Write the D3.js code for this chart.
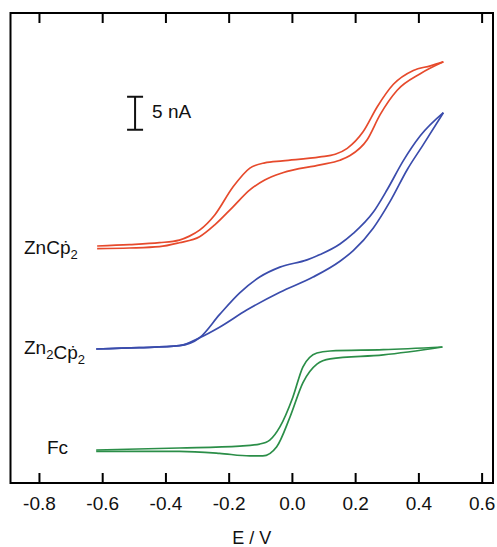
<!DOCTYPE html>
<html>
<head>
<meta charset="utf-8">
<script src="https://cdn.jsdelivr.net/npm/d3@7"></script>
<style>
  body { margin: 0; background: #fff; }
  svg { display: block; font-family: "Liberation Sans", Arial, sans-serif; }
</style>
</head>
<body>
<svg width="497" height="547"></svg>
<script>
// Tick values of the potential axis.
const xTicks = [-0.8, -0.6, -0.4, -0.2, 0.0, 0.2, 0.4, 0.6];

// ZnCp*2 (red), two branches of the sweep, E in V and I in nA (stacked).
const redUpperE = [-0.616, -0.514, -0.419, -0.356, -0.324, -0.292, -0.244, -0.187, -0.133, -0.086, -0.029, 0.089, 0.137, 0.175, 0.225, 0.270, 0.321, 0.384, 0.438, 0.479];
const redUpperI = [35.9, 36.1, 36.4, 36.8, 37.4, 38.3, 40.6, 44.8, 47.7, 48.5, 48.8, 49.4, 49.8, 50.7, 53.2, 57.0, 60.4, 62.5, 63.2, 63.8];
const redLowerE = [-0.616, -0.514, -0.419, -0.356, -0.292, -0.244, -0.187, -0.133, -0.086, -0.029, 0.089, 0.152, 0.184, 0.238, 0.279, 0.333, 0.406, 0.479];
const redLowerI = [35.5, 35.6, 35.8, 36.4, 37.3, 39.1, 41.8, 44.4, 45.9, 47.0, 48.2, 48.9, 49.6, 52.0, 55.8, 59.5, 62.0, 63.8];

// Zn2Cp*2 (blue).
const blueUpperE = [-0.619, -0.483, -0.356, -0.292, -0.229, -0.165, -0.102, -0.038, 0.048, 0.089, 0.152, 0.194, 0.257, 0.302, 0.352, 0.406, 0.479];
const blueUpperI = [20.3, 20.5, 20.8, 22.0, 25.5, 28.8, 31.2, 32.7, 33.8, 34.6, 36.2, 37.8, 41.0, 44.5, 48.8, 52.6, 56.1];
const blueLowerE = [-0.619, -0.483, -0.356, -0.292, -0.229, -0.143, -0.038, 0.067, 0.152, 0.194, 0.257, 0.311, 0.365, 0.416, 0.479];
const blueLowerI = [20.3, 20.5, 20.8, 22.0, 23.6, 26.2, 28.9, 31.2, 33.6, 35.2, 38.6, 42.7, 47.5, 51.3, 56.1];

// Fc (green).
const greenUpperE = [-0.619, -0.356, -0.165, -0.102, -0.070, -0.038, 0.003, 0.035, 0.079, 0.121, 0.289, 0.476];
const greenUpperI = [5.0, 5.3, 5.6, 5.9, 6.5, 8.5, 13.0, 17.6, 19.7, 20.0, 20.2, 20.6];
const greenLowerE = [-0.619, -0.356, -0.229, -0.133, -0.092, -0.048, -0.006, 0.035, 0.079, 0.121, 0.289, 0.476];
const greenLowerI = [4.8, 4.8, 4.5, 4.1, 4.1, 5.5, 10.0, 15.2, 18.0, 18.8, 19.4, 20.6];

// Curve labels and the scale bar.
const labels = ["ZnCp", "Zn2Cp", "Fc"];
const scaleBarE = -0.496;
const scaleBarI = [53.5, 58.5];

const svg = d3.select("svg");
const x = d3.scaleLinear().domain([-0.89, 0.636]).range([10.5, 493]);
const y = d3.scaleLinear().domain([0, 71.2]).range([483, 13]);

const zip = (es, is) => es.map((e, i) => [e, is[i]]);
const line = d3.line()
  .x((d) => x(d[0]))
  .y((d) => y(d[1]))
  .curve(d3.curveMonotoneX);

const curves = [
  { color: "#e64a2c", data: zip(redUpperE, redUpperI) },
  { color: "#e64a2c", data: zip(redLowerE, redLowerI) },
  { color: "#3a4cac", data: zip(blueUpperE, blueUpperI) },
  { color: "#3a4cac", data: zip(blueLowerE, blueLowerI) },
  { color: "#2b8e48", data: zip(greenUpperE, greenUpperI) },
  { color: "#2b8e48", data: zip(greenLowerE, greenLowerI) },
];

svg.selectAll("path.cv")
  .data(curves)
  .join("path")
  .attr("class", "cv")
  .attr("fill", "none")
  .attr("stroke", (c) => c.color)
  .attr("stroke-width", 1.7)
  .attr("stroke-linejoin", "round")
  .attr("d", (c) => line(c.data));

// Axes: ticks inward on top and bottom, no labels on top.
svg.append("g")
  .attr("transform", `translate(0,${y.range()[0]})`)
  .call(d3.axisBottom(x).tickValues(xTicks).tickSizeInner(-10).tickSizeOuter(0).tickFormat((d) => d.toFixed(1)))
  .call((g) => g.select(".domain").remove())
  .call((g) => g.selectAll("line").attr("stroke-width", 2))
  .call((g) => g.selectAll("text").attr("dy", 0).attr("y", 27).attr("font-size", 19).attr("fill", "#111").attr("font-family", null));

svg.append("g")
  .attr("transform", `translate(0,${y.range()[1]})`)
  .call(d3.axisTop(x).tickValues(xTicks).tickSizeInner(-10).tickSizeOuter(0).tickFormat(""))
  .call((g) => g.select(".domain").remove())
  .call((g) => g.selectAll("line").attr("stroke-width", 2));

// Frame.
svg.append("rect")
  .attr("x", x.range()[0])
  .attr("y", y.range()[1])
  .attr("width", x.range()[1] - x.range()[0])
  .attr("height", y.range()[0] - y.range()[1])
  .attr("fill", "none")
  .attr("stroke", "#000")
  .attr("stroke-width", 2);

svg.append("text")
  .attr("x", (x.range()[0] + x.range()[1]) / 2)
  .attr("y", 544)
  .attr("text-anchor", "middle")
  .attr("font-size", 18)
  .attr("fill", "#111")
  .text("E / V");

// Scale bar.
const bx = x(scaleBarE);
svg.append("path")
  .attr("d", `M${bx - 8},${y(scaleBarI[0])}H${bx + 8}M${bx},${y(scaleBarI[0])}V${y(scaleBarI[1])}M${bx - 8},${y(scaleBarI[1])}H${bx + 8}`)
  .attr("stroke", "#111")
  .attr("stroke-width", 2)
  .attr("fill", "none");
svg.append("text")
  .attr("x", bx + 17)
  .attr("y", y(scaleBarI[0]) - 12)
  .attr("font-size", 19)
  .attr("fill", "#111")
  .text("5 nA");

// Curve labels, left of each curve start.
const label = (tx, ty, parts) => {
  const t = svg.append("text").attr("x", tx).attr("y", ty).attr("font-size", 19).attr("fill", "#111");
  parts.forEach(([s, sub]) => {
    t.append("tspan")
      .attr("font-size", sub ? 13 : 19)
      .attr("dy", sub ? 5 : 0)
      .text(s);
    if (sub) t.append("tspan").attr("dy", -5).text("");
  });
};
label(24, y(redLowerI[0]) + 5, [["ZnCṗ"], ["2", true]]);
label(24, y(blueLowerI[0]) + 5, [["Zn"], ["2", true], ["Cṗ"], ["2", true]]);
svg.append("text")
  .attr("x", 47)
  .attr("y", y(greenLowerI[0]) + 3)
  .attr("font-size", 19)
  .attr("fill", "#111")
  .text(labels[2]);
</script>
</body>
</html>
